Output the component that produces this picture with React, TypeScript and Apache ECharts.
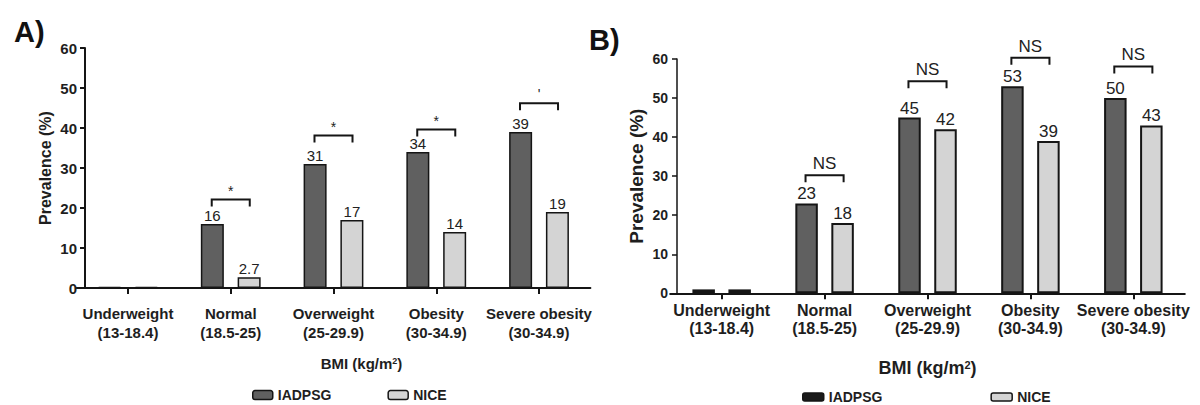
import React, { useEffect, useRef } from "react";
import * as echarts from "echarts";

const categoryNames = ["Underweight", "Normal", "Overweight", "Obesity", "Severe obesity"];
const bmiRanges = ["(13-18.4)", "(18.5-25)", "(25-29.9)", "(30-34.9)", "(30-34.9)"];

const iadpsgA = [0.3, 16, 31, 34, 39];
const niceA = [0.3, 2.7, 17, 14, 19];
const iadpsgB = [1, 23, 45, 53, 50];
const niceB = [1, 18, 42, 39, 43];

const bracketCatA = [1, 2, 3, 4];
const bracketTopA = [22.1, 38.1, 39.6, 46.2];
const bracketLabelA = ["*", "*", "*", "'"];

const bracketCatB = [1, 2, 3, 4];
const bracketTopB = [30.2, 54.3, 60.3, 58.1];
const bracketLabelB = ["NS", "NS", "NS", "NS"];

const yTicks = [0, 10, 20, 30, 40, 50, 60];

const FONT = "'Liberation Sans', Arial, sans-serif";
const DARK = "#606060";
const LIGHT = "#d4d4d4";
const INK = "#151515";

const categories = categoryNames.map((n, i) => n + "\n" + bmiRanges[i]);

function bracketSeries(cats: number[], tops: number[], labels: string[], axisIndex: number, fontSize: number, gap: number) {
  return {
    type: "custom",
    xAxisIndex: axisIndex,
    yAxisIndex: axisIndex,
    z: 5,
    clip: false,
    silent: true,
    data: cats.map((c, i) => [c, tops[i]]),
    renderItem: (params: any, api: any) => {
      const c = api.coord([api.value(0), api.value(1)]);
      const band = api.size([1, 0])[0];
      const half = band * 0.185;
      const x1 = c[0] - half;
      const x2 = c[0] + half;
      const y = c[1];
      return {
        type: "group",
        children: [
          {
            type: "polyline",
            shape: { points: [[x1, y + 7], [x1, y], [x2, y], [x2, y + 7]] },
            style: { stroke: INK, lineWidth: 2, fill: "none" },
          },
          {
            type: "text",
            style: {
              text: labels[params.dataIndex],
              x: c[0],
              y: y - gap,
              align: "center",
              verticalAlign: "bottom",
              fontSize,
              fontFamily: FONT,
              fill: "#222",
            },
          },
        ],
      };
    },
  };
}

function barSeries(name: string, data: number[], axisIndex: number, color: string, underColor: string, labelSize: number, border: number, barWidth: number) {
  return {
    type: "bar",
    name,
    xAxisIndex: axisIndex,
    yAxisIndex: axisIndex,
    data,
    barWidth,
    barGap: "60%",
    itemStyle: {
      color: (p: any) => (p.dataIndex === 0 ? underColor : color),
      borderColor: INK,
      borderWidth: border,
    },
    label: {
      show: true,
      position: "top",
      distance: 1,
      fontSize: labelSize,
      fontFamily: FONT,
      color: "#222",
      formatter: (p: any) => (p.dataIndex === 0 ? "" : String(p.value)),
    },
  };
}

export default function App() {
  const ref = useRef<HTMLDivElement>(null);
  useEffect(() => {
    if (!ref.current) return;
    const chart = echarts.init(ref.current, undefined, { renderer: "svg" });
    const xAxisBase = (gridIndex: number, labelSize: number, lineH: number, margin: number, nameSize: number, nameGap: number, namePad: number[]) => ({
      type: "category",
      gridIndex,
      data: categories,
      axisLine: { lineStyle: { color: INK, width: 2 } },
      axisTick: { show: true, alignWithLabel: true, length: 6, lineStyle: { color: INK, width: 2 } },
      axisLabel: {
        interval: 0,
        fontSize: labelSize,
        fontWeight: "bold",
        fontFamily: FONT,
        color: "#1e1e1e",
        lineHeight: lineH,
        margin,
      },
      name: "BMI (kg/m{sup|2})",
      nameLocation: "middle",
      nameGap,
      nameTextStyle: {
        fontSize: nameSize,
        fontWeight: "bold",
        fontFamily: FONT,
        color: "#1e1e1e",
        padding: namePad,
        rich: {
          sup: { fontSize: Math.round(nameSize * 0.62), fontWeight: "bold", fontFamily: FONT, color: "#1e1e1e", verticalAlign: "top", padding: [0, 0, 6, 0] },
        },
      },
    });
    const yAxisBase = (gridIndex: number, offset: number, labelSize: number, margin: number, nameSize: number, nameGap: number, lw: number) => ({
      type: "value",
      gridIndex,
      min: yTicks[0],
      max: yTicks[yTicks.length - 1],
      interval: yTicks[1] - yTicks[0],
      offset,
      splitLine: { show: false },
      axisLine: { show: true, lineStyle: { color: INK, width: lw } },
      axisTick: { show: true, length: 5, lineStyle: { color: INK, width: lw } },
      axisLabel: { fontSize: labelSize, fontWeight: "bold", fontFamily: FONT, color: "#1e1e1e", margin },
      name: "Prevalence (%)",
      nameLocation: "middle",
      nameGap,
      nameTextStyle: { fontSize: nameSize, fontWeight: "bold", fontFamily: FONT, color: "#1e1e1e" },
    });
    chart.setOption({
      animation: false,
      backgroundColor: "#ffffff",
      title: [
        { text: "A)", left: 9, top: 12, textStyle: { fontSize: 29, fontWeight: "bold", fontFamily: FONT, color: "#111" } },
        { text: "B)", left: 584, top: 20, textStyle: { fontSize: 29, fontWeight: "bold", fontFamily: FONT, color: "#111" } },
      ],
      legend: [
        {
          left: 252,
          top: 388,
          padding: 0,
          itemWidth: 20,
          itemHeight: 9,
          itemGap: 56,
          textStyle: { fontSize: 14, fontWeight: "bold", fontFamily: FONT, color: "#1e1e1e" },
          data: [
            { name: "IADPSG", itemStyle: { color: DARK, borderColor: INK, borderWidth: 1.5 } },
            { name: "NICE", itemStyle: { color: LIGHT, borderColor: INK, borderWidth: 1.5 } },
          ],
        },
        {
          left: 802,
          top: 390,
          padding: 0,
          itemWidth: 21,
          itemHeight: 8,
          itemGap: 108,
          textStyle: { fontSize: 14, fontWeight: "bold", fontFamily: FONT, color: "#1e1e1e" },
          data: [
            { name: "IADPSG", itemStyle: { color: "#1a1a1a", borderColor: INK, borderWidth: 1.5 } },
            { name: "NICE", itemStyle: { color: LIGHT, borderColor: INK, borderWidth: 1.5 } },
          ],
        },
      ],
      grid: [
        { left: 76.6, right: 609.6, top: 48, bottom: 117 },
        { left: 670.2, right: 15.2, top: 59, bottom: 111.7 },
      ],
      xAxis: [
        xAxisBase(0, 15, 19, 16, 15, 68, [0, 0, 0, 56]),
        xAxisBase(1, 16, 18, 8, 18, 66, [0, 0, 0, 0]),
      ],
      yAxis: [
        yAxisBase(0, -8.4, 15, 8, 16, 32, 2),
        yAxisBase(1, -6.8, 14, 9, 19, 31, 1.5),
      ],
      series: [
        barSeries("IADPSG", iadpsgA, 0, DARK, "#333", 15, 1.5, 23),
        barSeries("NICE", niceA, 0, LIGHT, "#333", 15, 1.5, 23),
        barSeries("IADPSG", iadpsgB, 1, DARK, "#111", 17, 2, 22.5),
        barSeries("NICE", niceB, 1, LIGHT, "#111", 17, 2, 22.5),
        bracketSeries(bracketCatA, bracketTopA, bracketLabelA, 0, 14, 2),
        bracketSeries(bracketCatB, bracketTopB, bracketLabelB, 1, 17, 3),
      ],
    });
    return () => chart.dispose();
  }, []);
  return <div ref={ref} style={{ position: "absolute", left: 0, top: 0, width: 1200, height: 405 }} />;
}
